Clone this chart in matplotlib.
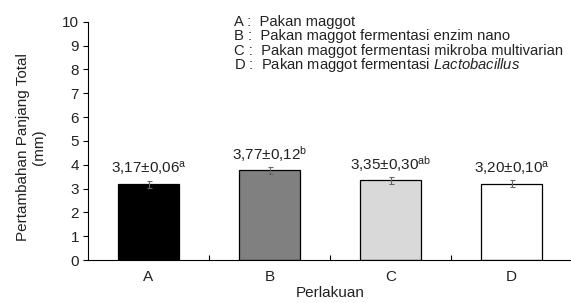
import numpy as np
import matplotlib.pyplot as plt

plt.rcParams['font.family'] = ['Liberation Sans', 'DejaVu Sans']
plt.rcParams['mathtext.fontset'] = 'custom'
plt.rcParams['mathtext.rm'] = 'Liberation Sans'
plt.rcParams['mathtext.it'] = 'Liberation Sans:italic'

# ── data ──────────────────────────────────────────────
groups = ['A', 'B', 'C', 'D']
means = [3.17, 3.77, 3.35, 3.20]
err_drawn = [0.15, 0.15, 0.15, 0.15]
labels = ['3,17±0,06', '3,77±0,12', '3,35±0,30', '3,20±0,10']
sups = ['a', 'b', 'ab', 'a']
colors = ['#000000', '#808080', '#d9d9d9', '#ffffff']
legend_lines = [
    r'A :  Pakan maggot',
    r'B :  Pakan maggot fermentasi enzim nano',
    r'C :  Pakan maggot fermentasi mikroba multivarian',
    r'D :  Pakan maggot fermentasi $\it{Lactobacillus}$',
]

TXT = '#222222'
FS = 11

W, H = 571, 303
fig = plt.figure(figsize=(W / 100, H / 100), dpi=100)
ax = fig.add_axes([88 / W, 1 - 260 / H, (572 - 88) / W, (260 - 21.7) / H])

x = np.arange(len(groups))
ax.bar(x, means, width=0.51, color=colors, edgecolor='black', lw=0.9, zorder=2)
ax.errorbar(x, means, yerr=err_drawn, fmt='none', ecolor='#666666',
            elinewidth=0.8, capsize=1.8, capthick=0.8, zorder=3)

for xi, m, lab, s in zip(x, means, labels, sups):
    ax.text(xi, m + 0.68, lab + r'$^{\mathrm{' + s + '}}$', ha='center',
            va='center', fontsize=FS, color=TXT)

ax.set_xlim(-0.5, 3.5)
ax.set_ylim(0, 10)
ax.set_yticks(range(0, 11))
ax.set_xticks(x)
ax.set_xticklabels(groups)
ax.set_xticks([0.5, 1.5, 2.5], minor=True)
ax.tick_params(axis='x', which='major', length=0, pad=7, labelsize=FS, labelcolor=TXT)
ax.tick_params(axis='x', which='minor', direction='in', length=3.5, width=0.8)
ax.tick_params(axis='y', labelsize=FS, length=3.5, width=0.8, pad=3, labelcolor=TXT)
for sp in ['top', 'right']:
    ax.spines[sp].set_visible(False)
for sp in ['left', 'bottom']:
    ax.spines[sp].set_linewidth(0.8)

ax.set_xlabel('Perlakuan', fontsize=FS, color=TXT)
ax.xaxis.set_label_coords(0.5, -(286 - 260) / (260 - 21.7), transform=ax.transAxes)

fig.text(31 / W, 1 - 147 / H, 'Pertambahan Panjang Total\n(mm)', fontsize=FS,
         color=TXT, rotation=90, ha='center', va='center', linespacing=1.15)

# legend block (plain text, top right)
for i, line in enumerate(legend_lines):
    fig.text(234 / W, 1 - (21.7 + 14.5 * i) / H, line, fontsize=10.6,
             va='center', color=TXT)

fig.savefig('out.png', dpi=100)
